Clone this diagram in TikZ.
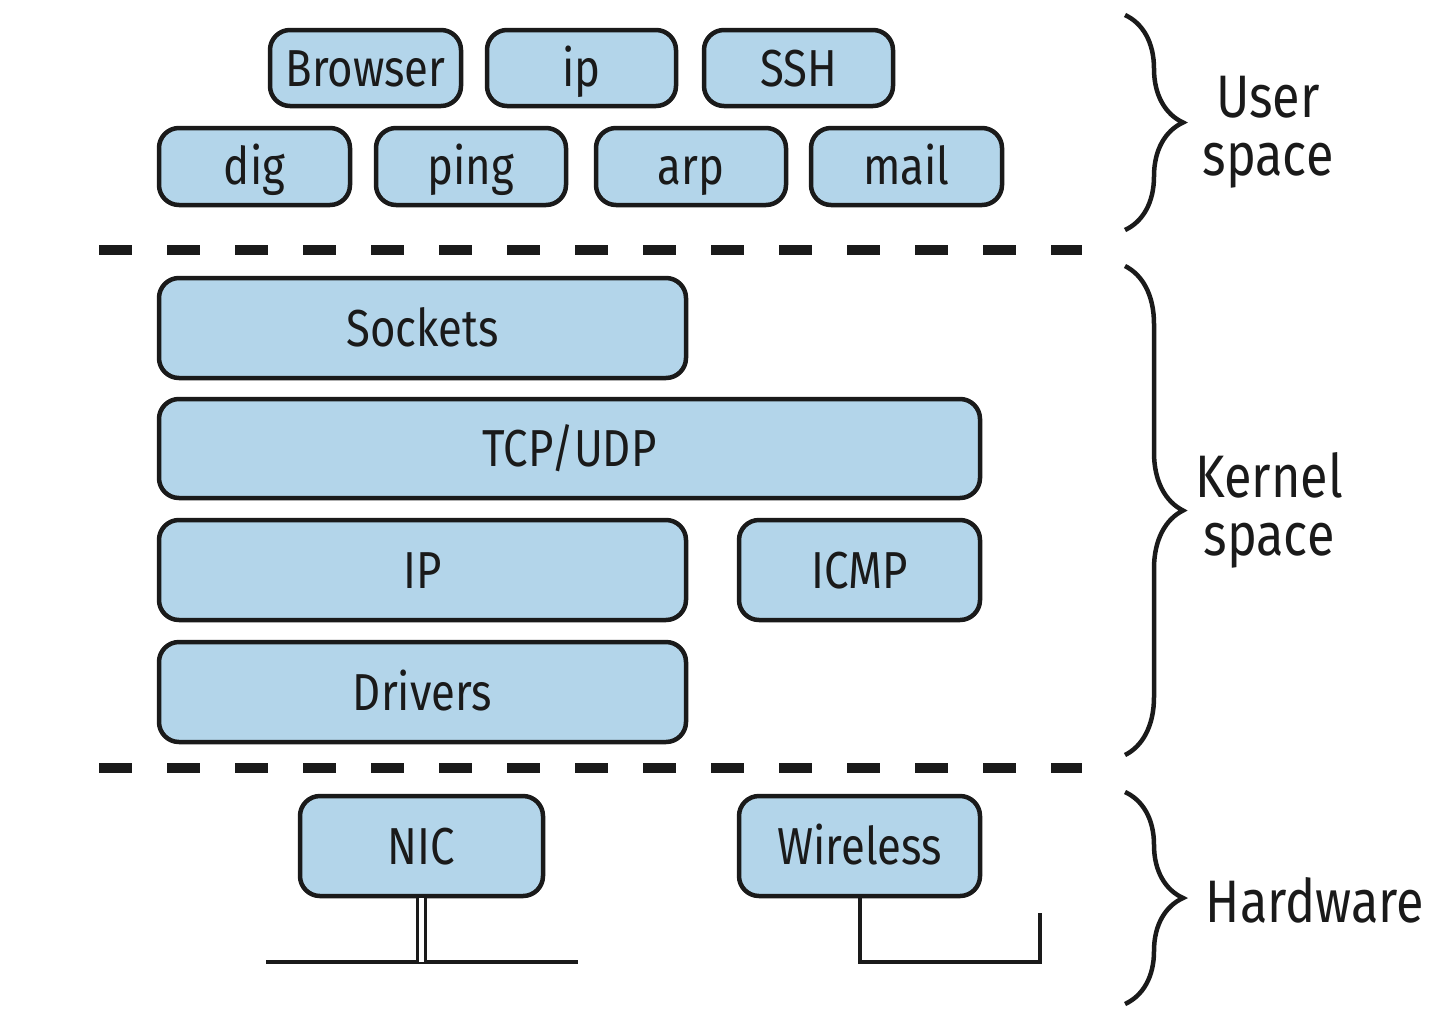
\documentclass[tikz,border=0pt]{standalone}
\usepackage{fontspec}
\setmainfont{Fira Sans}[FakeStretch=0.84]
\usepackage{tikz}
\usetikzlibrary{decorations.pathreplacing}
\usepackage{xcolor}
\definecolor{boxblue}{HTML}{B3D5EA}
\definecolor{ink}{HTML}{1A1A1A}

\tikzset{
    layer/.style={draw=ink, line width=4.5pt, rounded corners=20pt, fill=boxblue, text=ink, text height=42pt, text depth=6pt, font=\fontsize{52}{60}\selectfont},
    divider/.style={draw=ink, line width=10pt, dash pattern=on 33pt off 35pt},
    curly/.style={draw=ink, line width=4.5pt, decorate, decoration={brace, amplitude=58pt}},
    side/.style={text=ink, align=center, font=\fontsize{60}{58}\selectfont}
}

\begin{document}
\begin{tikzpicture}[x=1pt, y=-1pt]
    \useasboundingbox (0,0) rectangle (1450,1012);

    % user space
    \node[layer, minimum width=191pt, minimum height=76pt] (browser) at (365.5,68) {Browser};
    \node[layer, minimum width=189pt, minimum height=76pt] (ip) at (581.5,68) {ip};
    \node[layer, minimum width=189pt, minimum height=76pt] (ssh) at (798.5,68) {SSH};
    \node[layer, minimum width=191pt, minimum height=77pt] (dig) at (254.5,166.5) {dig};
    \node[layer, minimum width=190pt, minimum height=77pt] (ping) at (471,166.5) {ping};
    \node[layer, minimum width=190pt, minimum height=77pt] (arp) at (691,166.5) {arp};
    \node[layer, minimum width=191pt, minimum height=77pt] (mail) at (906.5,166.5) {mail};

    \coordinate (divAl) at (99,250);
    \coordinate (divAr) at (1082,250);
    \draw[divider] (divAl) -- (divAr);

    % kernel space
    \node[layer, minimum width=527pt, minimum height=100pt] (sockets) at (422.5,328) {Sockets};
    \node[layer, minimum width=821pt, minimum height=99pt] (tcpudp) at (569.5,448.5) {TCP/UDP};
    \node[layer, minimum width=527pt, minimum height=100pt] (ipl) at (422.5,570) {IP};
    \node[layer, minimum width=241pt, minimum height=100pt] (icmp) at (859.5,570) {ICMP};
    \node[layer, minimum width=527pt, minimum height=100pt] (drivers) at (422.5,692) {Drivers};

    \coordinate (divBl) at (99,768);
    \coordinate (divBr) at (1082,768);
    \draw[divider] (divBl) -- (divBr);

    % hardware
    \node[layer, minimum width=243pt, minimum height=100pt] (nic) at (421.5,846) {NIC};
    \node[layer, minimum width=241pt, minimum height=100pt] (wireless) at (859.5,846) {Wireless};

    \coordinate (lanl) at (266,962);
    \coordinate (lanr) at (578,962);
    \coordinate (lanjoin) at (nic.south |- lanl);
    \draw[ink, line width=4pt] (lanl) -- (lanr);
    \draw[ink, line width=3pt, double=white, double distance=5pt] (nic.south) -- (lanjoin);

    \coordinate (antbend) at (wireless.south |- lanl);
    \coordinate (antend) at (1040,913);
    \draw[ink, line width=4pt] (wireless.south) -- (antbend) -| (antend);

    % braces and labels
    \coordinate (userTop) at (1125,15);
    \coordinate (userBot) at (1125,230);
    \draw[curly] (userTop) -- (userBot);
    \node[side] (userlbl) at (1268,132) {User\\space};

    \coordinate (kernTop) at (1125,266);
    \coordinate (kernBot) at (1125,755);
    \draw[curly] (kernTop) -- (kernBot);
    \node[side] (kernlbl) at (1269,510) {Kernel\\space};

    \coordinate (hwTop) at (1125,792);
    \coordinate (hwBot) at (1125,1004);
    \draw[curly] (hwTop) -- (hwBot);
    \node[side] (hwlbl) at (1315,900) {Hardware};
\end{tikzpicture}
\end{document}
